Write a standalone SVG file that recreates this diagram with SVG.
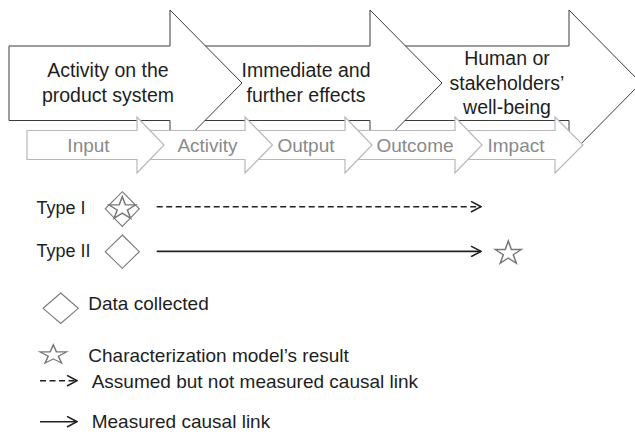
<svg xmlns="http://www.w3.org/2000/svg" width="635" height="436" viewBox="0 0 635 436">
  <style>
    .big { fill: #ffffff; stroke: #3a3a3a; stroke-width: 1; stroke-linejoin: miter; }
    .small { fill: #ffffff; stroke: #b8b8b8; stroke-width: 1.2; stroke-linejoin: miter; }
    .t { font-family: "Liberation Sans", Arial, sans-serif; fill: #1e1e1e; }
    .bigtxt { font-size: 19.5px; text-anchor: middle; }
    .smalltxt { font-size: 19px; text-anchor: middle; fill: #8a8a8a; }
    .type { font-size: 18px; }
    .leg { font-size: 19px; }
    .shape { fill: #ffffff; stroke: #777777; stroke-width: 1.1; }
    .link { fill: none; stroke: #222222; stroke-width: 1.6; }
    .dash { stroke-dasharray: 6 3.5; }
  </style>
  <defs>
    <marker id="chev" viewBox="0 0 12 12" refX="11" refY="6" markerWidth="12" markerHeight="12" markerUnits="userSpaceOnUse" orient="auto">
      <path d="M1,0.7 L11,6 L1,11.3" fill="none" stroke="#222222" stroke-width="1.6"/>
    </marker>
    <path id="star" d="M0,-10 L2.245,-3.09 L9.511,-3.09 L3.633,1.18 L5.878,8.09 L0,3.82 L-5.878,8.09 L-3.633,1.18 L-9.511,-3.09 L-2.245,-3.09 Z"/>
  </defs>

  <!-- Large stage arrows, drawn right to left so each head overlaps the next body -->
  <g id="stage-wellbeing">
    <polygon class="big" points="400,46 569,46 569,10 641,83 569,156 569,120.5 400,120.5"/>
    <text class="t bigtxt" x="507" y="65">Human or</text>
    <text class="t bigtxt" x="507" y="89.5">stakeholders’</text>
    <text class="t bigtxt" x="507" y="114">well-being</text>
  </g>
  <g id="stage-effects">
    <polygon class="big" points="200,46 370,46 370,10 442,83 370,156 370,120.5 200,120.5"/>
    <text class="t bigtxt" x="306" y="77">Immediate and</text>
    <text class="t bigtxt" x="306" y="102">further effects</text>
  </g>
  <g id="stage-activity">
    <polygon class="big" points="9,46 170,46 170,10 242,83 170,156 170,120.5 9,120.5"/>
    <text class="t bigtxt" x="108" y="77">Activity on the</text>
    <text class="t bigtxt" x="108" y="102">product system</text>
  </g>

  <!-- Results-chain arrows, drawn right to left -->
  <g id="step-impact">
    <polygon class="small" points="468,130.5 555,130.5 555,117 583,145 555,173 555,159.5 468,159.5"/>
    <text class="t smalltxt" x="516" y="152">Impact</text>
  </g>
  <g id="step-outcome">
    <polygon class="small" points="358,130.5 455,130.5 455,117 482,145 455,173 455,159.5 358,159.5"/>
    <text class="t smalltxt" x="415" y="152">Outcome</text>
  </g>
  <g id="step-output">
    <polygon class="small" points="258,130.5 345,130.5 345,117 372,145 345,173 345,159.5 258,159.5"/>
    <text class="t smalltxt" x="306" y="152">Output</text>
  </g>
  <g id="step-activity">
    <polygon class="small" points="148,130.5 245,130.5 245,117 272.5,145 245,173 245,159.5 148,159.5"/>
    <text class="t smalltxt" x="207.5" y="152">Activity</text>
  </g>
  <g id="step-input">
    <polygon class="small" points="27,130.5 137,130.5 137,117 164,145 137,173 137,159.5 27,159.5"/>
    <text class="t smalltxt" x="88.5" y="152">Input</text>
  </g>

  <!-- Indicator types -->
  <g id="type-1">
    <text class="t type" x="36.5" y="214">Type I</text>
    <polygon class="shape" points="122.3,191.7 139.3,208.8 122.3,226.5 105.3,208.8"/>
    <use href="#star" class="shape" fill="none" vector-effect="non-scaling-stroke" transform="translate(122.3,208.6) scale(1.4,1.19)" style="fill:none" />
  </g>
  <g id="type-2">
    <text class="t type" x="36.5" y="257">Type II</text>
    <polygon class="shape" points="122.3,235 139.3,251.7 122.3,268.3 105.3,251.7"/>
  </g>
  <g id="type-2-result">
    <use href="#star" class="shape" transform="translate(508.3,253.3) scale(1.37,1.23)"/>
  </g>

  <!-- Causal links -->
  <g id="connectors">
    <line class="link dash" x1="156.7" y1="206.7" x2="481" y2="206.7" marker-end="url(#chev)"/>
    <line class="link" x1="156.7" y1="251.4" x2="481" y2="251.4" marker-end="url(#chev)"/>
  </g>

  <!-- Legend -->
  <g id="legend-data">
    <polygon class="shape" points="60.7,293 78.3,308.3 60.7,323.5 43.1,308.3"/>
    <text class="t leg" x="88.3" y="310">Data collected</text>
  </g>
  <g id="legend-result">
    <use href="#star" class="shape" transform="translate(53.3,355) scale(1.4,1.01)"/>
    <text class="t leg" x="88.3" y="361.7">Characterization model’s result</text>
  </g>
  <g id="legend-assumed">
    <line class="link dash" x1="40" y1="380.7" x2="77" y2="380.7" marker-end="url(#chev)"/>
    <text class="t leg" x="91.7" y="388">Assumed but not measured causal link</text>
  </g>
  <g id="legend-measured">
    <line class="link" x1="40" y1="421.7" x2="77" y2="421.7" marker-end="url(#chev)"/>
    <text class="t leg" x="91.7" y="428">Measured causal link</text>
  </g>
</svg>
